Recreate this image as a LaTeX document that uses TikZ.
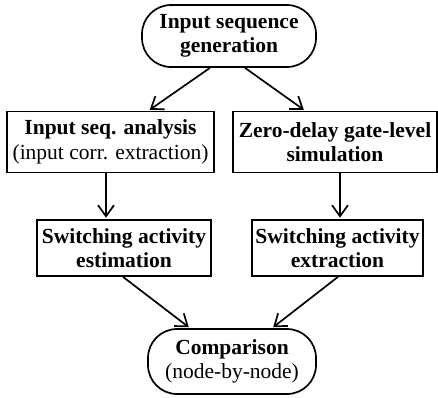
\documentclass[tikz,border=0pt]{standalone}
\usepackage{fontspec}
\setmainfont{Liberation Serif}
\usetikzlibrary{arrows.meta}

\begin{document}
\begin{tikzpicture}[every node/.style={draw,line width=1.7pt,align=center,inner sep=1pt,font=\fontsize{21.5}{24.5}\selectfont\bfseries}, term/.style={rounded corners=29pt}, node distance=106pt]
	\useasboundingbox (0,0) rectangle (438pt,-397pt);
	\node[term,minimum width=174pt,minimum height=62pt] (Gen) at (229pt,-36pt) {Input sequence\\generation};
	\node[below of=Gen,xshift=-118.5pt,minimum width=207pt,minimum height=61pt] (Ana) {Input seq. analysis\\{\mdseries (input corr. extraction)}};
	\node[below of=Gen,xshift=106pt,minimum width=204pt,minimum height=61pt] (Sim) {Zero-delay gate-level\\simulation};
	\node[below of=Ana,xshift=13.5pt,minimum width=174pt,minimum height=56pt] (Est) {Switching activity\\estimation};
	\node[below of=Sim,xshift=2.5pt,minimum width=171pt,minimum height=56pt] (Ext) {Switching activity\\extraction};
	\node[term,node distance=325.5pt,below of=Gen,xshift=3pt,minimum width=168pt,minimum height=65pt] (Cmp) {Comparison\\{\mdseries (node-by-node)}};

	\path[line width=1.7pt,shorten >=1.5pt,-{Straight Barb[length=11pt,width=16pt]}]
		([xshift=-19pt]Gen.south) edge ([xshift=38pt]Ana.north)
		([xshift=16pt]Gen.south) edge ([xshift=-30pt]Sim.north)
		([xshift=-4.5pt]Ana.south) edge ([xshift=-18pt]Est.north)
		([xshift=5pt]Sim.south) edge ([xshift=2.5pt]Ext.north)
		([xshift=-1pt]Est.south) edge ([xshift=-42pt]Cmp.north)
		([xshift=0.5pt]Ext.south) edge ([xshift=40pt]Cmp.north)
	;
\end{tikzpicture}
\end{document}
